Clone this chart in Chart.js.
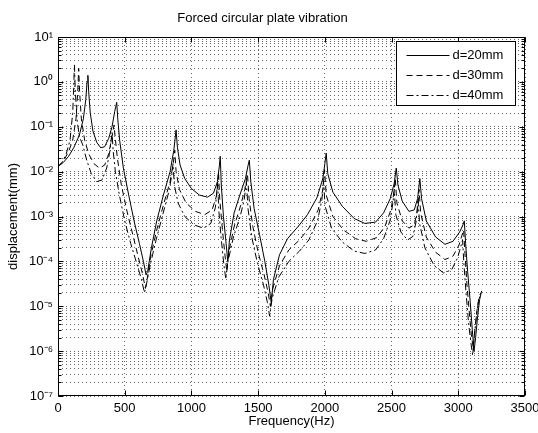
<!DOCTYPE html>
<html><head><meta charset="utf-8">
<script src="https://cdn.jsdelivr.net/npm/chart.js@4.4.0/dist/chart.umd.min.js"></script>
<style>html,body{margin:0;padding:0;background:#fff;}</style>
</head><body>
<canvas id="c" width="538" height="433"></canvas>
<script>
const chartTitle = 'Forced circular plate vibration';
const xTitle = 'Frequency(Hz)';
const yTitle = 'displacement(mm)';
const seriesNames = ['d=20mm', 'd=30mm', 'd=40mm'];
const xTickValues = [0, 500, 1000, 1500, 2000, 2500, 3000, 3500];
const xTickLabels = ['0', '500', '1000', '1500', '2000', '2500', '3000', '3500'];
const yDecades = [-7, -6, -5, -4, -3, -2, -1, 0, 1];
const yTickLabels = ['10⁻⁷', '10⁻⁶', '10⁻⁵', '10⁻⁴', '10⁻³', '10⁻²', '10⁻¹', '10⁰', '10¹'];

const freq20 = [0,40,80,120,160,190,208,218,224,230,242,262,290,320,350,380,405,425,440,448,462,490,530,570,610,640,660,672,700,740,790,840,868,885,895,915,950,1000,1060,1120,1165,1195,1210,1216,1224,1240,1260,1272,1285,1320,1370,1405,1425,1434,1445,1470,1510,1550,1580,1598,1615,1660,1720,1800,1870,1940,1985,2000,2010,2022,2060,2130,2220,2300,2380,2440,2490,2520,2535,2548,2580,2630,2670,2695,2712,2725,2760,2830,2900,2960,3010,3035,3045,3055,3070,3090,3105,3118,3130,3145,3160,3175];
const disp20 = [0.013,0.016,0.022,0.035,0.065,0.15,0.4,1.0,1.4,0.6,0.2,0.08,0.045,0.034,0.036,0.055,0.1,0.22,0.35,0.15,0.05,0.012,3e-3,8e-4,2.5e-4,1e-4,5e-5,6e-5,2e-4,8e-4,3e-3,0.01,0.03,0.085,0.035,0.014,7e-3,4.2e-3,3e-3,2.7e-3,3.3e-3,6e-3,0.014,0.022,5e-3,1e-3,2.5e-4,1e-4,3e-4,1.2e-3,3.5e-3,7e-3,0.014,0.018,6e-3,1.5e-3,4e-4,1e-4,3e-5,1.2e-5,4e-5,1.4e-4,3.2e-4,6e-4,1.1e-3,2.6e-3,7e-3,0.015,0.026,9e-3,3.5e-3,1.7e-3,9e-4,7e-4,7.5e-4,1.2e-3,2.5e-3,5.5e-3,0.012,5e-3,2.2e-3,1.3e-3,1.4e-3,2.5e-3,7e-3,2.5e-3,8e-4,3.5e-4,2.4e-4,2.8e-4,4.5e-4,6.5e-4,8e-4,2.5e-4,6e-5,1.2e-5,3e-6,1e-6,2e-6,6e-6,1.4e-5,2.2e-5];

const freq30 = [0,40,80,110,135,148,155,162,175,200,230,270,310,350,380,405,420,428,445,475,520,560,600,635,655,668,695,740,790,840,865,875,885,910,960,1030,1100,1155,1190,1203,1212,1230,1250,1265,1280,1320,1370,1400,1420,1432,1460,1500,1545,1575,1592,1610,1660,1730,1810,1880,1950,1985,1998,2010,2060,2140,2230,2310,2390,2450,2495,2518,2528,2540,2580,2630,2670,2695,2706,2718,2760,2830,2900,2960,3005,3030,3040,3050,3065,3085,3100,3112,3125,3140,3155,3170];
const disp30 = [0.013,0.017,0.028,0.05,0.15,0.6,2.0,0.6,0.15,0.05,0.025,0.015,0.012,0.014,0.025,0.06,0.11,0.06,0.02,5e-3,1.2e-3,4e-4,1.3e-4,5e-5,2.5e-5,4e-5,1.3e-4,5e-4,1.8e-3,6e-3,0.016,0.03,0.01,4e-3,2e-3,1.3e-3,1.1e-3,1.4e-3,3e-3,0.01,2.5e-3,6e-4,1.5e-4,6e-5,1.6e-4,6e-4,1.8e-3,4e-3,9e-3,2.5e-3,6e-4,1.6e-4,5e-5,2e-5,1e-5,2.5e-5,8e-5,1.8e-4,3e-4,5.5e-4,1.4e-3,4e-3,0.011,3e-3,1e-3,5e-4,3.2e-4,2.8e-4,3.4e-4,6e-4,1.4e-3,3.5e-3,7e-3,2e-3,8e-4,5.5e-4,6.5e-4,1.4e-3,4e-3,1.2e-3,3.5e-4,1.6e-4,1.1e-4,1.3e-4,2.3e-4,4e-4,5e-4,1.5e-4,3e-5,6e-6,2e-6,1.2e-6,3e-6,8e-6,1.6e-5,2e-5];

const freq40 = [0,30,60,90,110,118,123,130,142,160,185,215,250,290,330,365,390,405,413,430,460,500,545,590,625,648,662,690,735,785,830,852,862,872,900,950,1020,1090,1145,1180,1196,1205,1222,1242,1258,1274,1315,1365,1395,1412,1424,1452,1495,1540,1570,1586,1605,1655,1730,1810,1880,1945,1978,1990,2002,2050,2130,2220,2300,2380,2440,2488,2510,2520,2532,2570,2620,2660,2685,2698,2710,2750,2820,2890,2950,2995,3020,3032,3042,3058,3078,3095,3108,3122,3138,3152,3165];
const disp40 = [0.013,0.016,0.024,0.05,0.2,0.8,2.4,0.6,0.15,0.06,0.04,0.018,9e-3,6e-3,6.5e-3,0.012,0.03,0.075,0.03,0.01,3e-3,8e-4,2.5e-4,9e-5,4e-5,2e-5,3e-5,8e-5,3e-4,1.1e-3,3.5e-3,8e-3,0.015,5e-3,2e-3,1e-3,6.5e-4,5.5e-4,7e-4,1.6e-3,6e-3,1.4e-3,3.5e-4,9e-5,4e-5,1e-4,3.5e-4,1e-3,2.3e-3,6e-3,1.5e-3,3.5e-4,9e-5,3e-5,1.2e-5,6e-6,1.5e-5,4.5e-5,1e-4,1.7e-4,3e-4,8e-4,2.4e-3,6e-3,1.7e-3,5.5e-4,2.7e-4,1.7e-4,1.5e-4,1.8e-4,3.2e-4,8e-4,2e-3,4e-3,1.1e-3,4.5e-4,3e-4,3.6e-4,8e-4,2.5e-3,7e-4,2e-4,8e-5,5.5e-5,6.5e-5,1.2e-4,2.2e-4,3e-4,9e-5,2e-5,4e-6,1.5e-6,8e-7,2.5e-6,7e-6,1.3e-5,1.8e-5];

const FONT = "'Liberation Sans', Arial, Helvetica, sans-serif";
const toPts = (fs, ds) => fs.map((f, i) => ({x: f, y: ds[i]}));

const yTickValues = [];
for (const k of yDecades) {
  if (k === yDecades[yDecades.length - 1]) { yTickValues.push(Math.pow(10, k)); break; }
  for (let m = 1; m <= 9; m++) yTickValues.push(m * Math.pow(10, k));
}
const decadeIndex = v => yDecades.findIndex(d => Math.abs(Math.log10(v) - d) < 1e-9);

const framePlugin = {
  id: 'frame',
  afterDraw(chart) {
    const {ctx, chartArea: a, scales: {x, y}} = chart;
    ctx.save();
    ctx.strokeStyle = '#000';
    ctx.lineWidth = 1;
    ctx.setLineDash([]);
    const seg = (x1, y1, x2, y2) => { ctx.beginPath(); ctx.moveTo(x1, y1); ctx.lineTo(x2, y2); ctx.stroke(); };
    const L = Math.round(a.left) + 0.5, R = Math.round(a.right) - 0.5;
    const T = Math.round(a.top) + 0.5, B = Math.round(a.bottom) - 0.5;
    ctx.strokeRect(L, T, R - L, B - T);
    x.ticks.forEach(t => {
      const px = Math.round(x.getPixelForValue(t.value)) + 0.5;
      seg(px, B, px, B - 5); seg(px, T, px, T + 5);
    });
    y.ticks.forEach(t => {
      const py = Math.round(y.getPixelForValue(t.value)) + 0.5;
      const len = decadeIndex(t.value) >= 0 ? 5 : 3;
      seg(L, py, L + len, py); seg(R, py, R - len, py);
    });
    // legend box
    const bx = Math.round(a.right - 129) + 0.5, by = Math.round(a.top + 4) + 0.5, bw = 119, bh = 64;
    ctx.fillStyle = '#fff';
    ctx.fillRect(bx, by, bw, bh);
    ctx.strokeRect(bx, by, bw, bh);
    ctx.font = '13px ' + FONT;
    ctx.fillStyle = '#000';
    ctx.textBaseline = 'middle';
    ctx.textAlign = 'left';
    chart.data.datasets.forEach((ds, i) => {
      const yy = Math.round(by + 13 + i * 20) + 0.5;
      ctx.setLineDash(ds.borderDash || []);
      seg(bx + 10, yy, bx + 53, yy);
      ctx.setLineDash([]);
      ctx.fillText(ds.label, bx + 56, yy);
    });
    ctx.restore();
  }
};

const styles = [[], [6, 4], [7, 3, 2, 3]];
const series = [[freq20, disp20], [freq30, disp30], [freq40, disp40]];

new Chart(document.getElementById('c'), {
  type: 'line',
  data: {
    datasets: series.map((s, i) => ({
      label: seriesNames[i],
      data: toPts(s[0], s[1]),
      borderColor: '#000',
      borderWidth: 1,
      borderDash: styles[i],
      pointRadius: 0,
      tension: 0,
      fill: false
    }))
  },
  options: {
    responsive: false,
    animation: false,
    devicePixelRatio: 1,
    layout: {padding: {left: 0, right: 13, top: 0, bottom: 0}},
    plugins: {
      legend: {display: false},
      tooltip: {enabled: false},
      title: {
        display: true, text: chartTitle, color: '#000',
        font: {family: FONT, size: 13, weight: 'normal'},
        padding: {top: 11, bottom: 10.4}
      }
    },
    scales: {
      x: {
        type: 'linear', min: 0, max: 3500,
        afterBuildTicks: s => { s.ticks = xTickValues.map(v => ({value: v})); },
        afterFit: s => { s.height = 37; s.paddingLeft = 0; s.paddingRight = 0; },
        ticks: {
          color: '#000', font: {family: FONT, size: 13}, padding: 5, maxRotation: 0, autoSkip: false,
          callback: v => { const i = xTickValues.indexOf(v); return i >= 0 ? xTickLabels[i] : ''; }
        },
        grid: {color: 'rgba(0,0,0,0.6)', lineWidth: 1, drawTicks: false},
        border: {display: false, dash: [1, 3]},
        title: {display: true, text: xTitle, color: '#000', font: {family: FONT, size: 13}, padding: {top: 0, bottom: 4}}
      },
      y: {
        type: 'logarithmic', min: 1e-7, max: 10,
        afterBuildTicks: s => { s.ticks = yTickValues.map(v => ({value: v})); },
        afterFit: s => { s.width = 58; s.paddingTop = 0; s.paddingBottom = 0; },
        ticks: {
          color: '#000', font: {family: FONT, size: 13}, padding: 5, autoSkip: false,
          callback: v => { const i = decadeIndex(v); return i >= 0 ? yTickLabels[i] : ''; }
        },
        grid: {color: 'rgba(0,0,0,0.6)', lineWidth: 1, drawTicks: false},
        border: {display: false, dash: [1, 3]},
        title: {display: true, text: yTitle, color: '#000', font: {family: FONT, size: 13}, padding: {top: 6, bottom: 0}}
      }
    }
  },
  plugins: [framePlugin]
});
</script>
</body></html>
